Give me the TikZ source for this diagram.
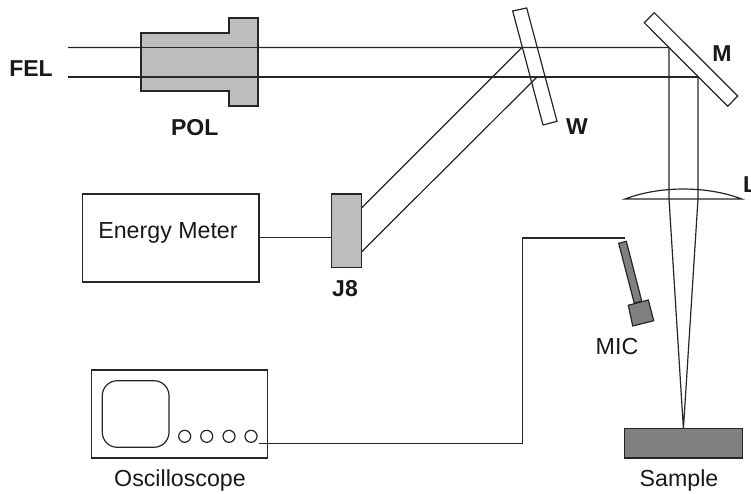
\documentclass[tikz,border=0pt]{standalone}
\usepackage{fontspec}
\setmainfont{Liberation Sans}
\tikzset{
  x=1pt,y=-1pt,
  ln/.style={line width=1.2pt,draw=black!85,line join=miter},
  wire/.style={ln},
  box/.style={ln,draw,rectangle,inner sep=0pt,outer sep=0pt,anchor=north west},
  lightpart/.style={ln,fill=black!26},
  darkpart/.style={ln,fill=black!50},
  lab/.style={inner sep=0pt,outer sep=0pt,anchor=base,font=\fontsize{23.2}{23.2}\selectfont,text=black!90},
  blab/.style={lab,font=\fontsize{23}{23}\selectfont\bfseries},
}
\begin{document}
\begin{tikzpicture}
\useasboundingbox (0,0) rectangle (751,494);
% beam coordinates
\coordinate (inU) at (68,47.5);
\coordinate (inL) at (68,77);
\coordinate (mU) at (669,47.5);
\coordinate (mL) at (698,77);
\coordinate (wU) at (521.7,47.7);
\coordinate (wL) at (536.7,77.3);
\coordinate (lensU) at (669,199);
\coordinate (lensL) at (698,199);
\coordinate (focus) at (683.4,428.7);
\coordinate (lensA) at (625,199);
\coordinate (lensB) at (741.7,199);
% beams
\draw[wire] (inU) -- (mU) -- (lensU) -- (focus) -- (lensL) -- (mL) -- (inL);
% POL
\draw[lightpart] (141,33) -- (229,33) -- (229,18) -- (258,18) -- (258,106) -- (229,106) -- (229,91) -- (141,91) -- cycle;
% W window
\draw[ln] (512.7,11) -- (526.7,8) -- (557,121.3) -- (543,125) -- cycle;
% M mirror
\draw[ln,fill=white] (654.3,12.7) -- (644.3,22.7) -- (727.7,106.3) -- (737.7,96) -- cycle;
\draw[wire] (inU) -- (mU);
\draw[wire] (inL) -- (mL);
% J8
\node[box,fill=black!26,minimum width=30pt,minimum height=73.3pt] (j8) at (331.7,194) {};
\draw[wire] (wU) -- (j8.north east |- 0,207.7);
\draw[wire] (wL) -- (j8.north east |- 0,251.7);
% Energy meter
\node[box,minimum width=176.3pt,minimum height=88pt] (em) at (82.7,194) {};
\node[lab] (emt) at (168,238) {Energy Meter};
\draw[wire] (em.east |- 0,237.6) -- (j8.west |- 0,237.6);
% lens
\draw[ln] (lensA) .. controls (660,185.7) and (706.7,185.7) .. (lensB) -- cycle;
% sample
\node[box,fill=black!50,minimum width=117.6pt,minimum height=29.3pt] (sample) at (624.7,428.7) {};
% mic
\draw[darkpart] (618.7,243.3) -- (626.3,241.3) -- (641.7,301) -- (634.3,303.3) -- cycle;
\draw[darkpart] (628.3,305.3) -- (648.3,300) -- (653.7,320.7) -- (632.7,326) -- cycle;
% oscilloscope
\node[box,minimum width=175.6pt,minimum height=88pt] (osc) at (91.7,370) {};
\node[box,rounded corners=15pt,minimum width=66.7pt,minimum height=66.6pt] (scr) at (102.3,380.7) {};
\foreach \n/\cx in {a/184.7,b/206.7,c/229,d/251}
  \node[ln,draw,circle,inner sep=0pt,minimum size=12pt] (k\n) at (\cx,436.3) {};
% signal wire
\coordinate (sigEnd) at (259,443.3);
\coordinate (micEnd) at (624.7,238);
\draw[wire] (sigEnd) -- (522.3,443.3) -- (522.3,238) -- (micEnd);
% labels
\node[blab] (fel) at (31,76.7) {FEL};
\node[blab] (pol) at (194.7,136) {POL};
\node[blab] (j8t) at (345,296.7) {J8};
\node[blab] (wt) at (577,135) {W};
\node[blab] (mt) at (722,62) {M};
\node[blab,anchor=base west] (lt) at (743,193) {L};
\node[lab] (mict) at (617,354.3) {MIC};
\node[lab] (samplet) at (679,486.7) {Sample};
\node[lab] (osct) at (180,486.7) {Oscilloscope};
\end{tikzpicture}
\end{document}
